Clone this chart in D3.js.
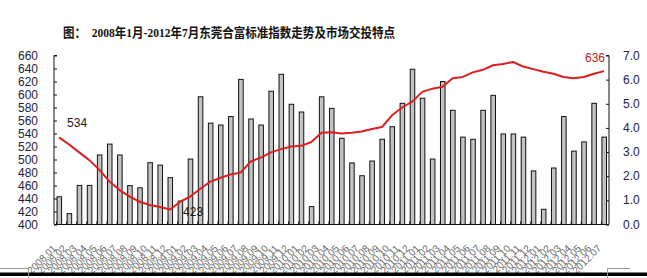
<!DOCTYPE html>
<html>
<head>
<meta charset="utf-8">
<script src="https://cdn.jsdelivr.net/npm/d3@7"></script>
<style>
  body { margin: 0; background: #fff; }
  svg { display: block; }
</style>
</head>
<body>
<svg id="chart"></svg>
<script>
// Data
var months = [
    "2008.01", "2008.02", "2008.03", "2008.04", "2008.05", "2008.06", "2008.07", "2008.08", "2008.09", "2008.10", "2008.11", "2008.12",
    "2009.01", "2009.02", "2009.03", "2009.04", "2009.05", "2009.06", "2009.07", "2009.08", "2009.09", "2009.10", "2009.11", "2009.12",
    "2010.01", "2010.02", "2010.03", "2010.04", "2010.05", "2010.06", "2010.07", "2010.08", "2010.09", "2010.10", "2010.11", "2010.12",
    "2011.01", "2011.02", "2011.03", "2011.04", "2011.05", "2011.06", "2011.07", "2011.08", "2011.09", "2011.10", "2011.11", "2011.12",
    "2012.01", "2012.02", "2012.03", "2012.04", "2012.05", "2012.06", "2012.07"
];

// standard index (left axis)
var indexValues = [
    534, 523, 511, 499, 484, 466, 453, 443, 435, 430, 427, 423,
    435, 443, 455, 466, 472, 477, 480, 497, 503, 511, 516, 520,
    521, 527, 541, 542, 540, 541, 543, 547, 550, 568, 580, 589,
    604, 609, 612, 625, 627, 634, 638, 645, 647, 650, 643, 639,
    635, 632, 627, 625, 627, 632, 636
];

// trading volume (right axis)
var volumeValues = [
    1.15, 0.45, 1.62, 1.62, 2.88, 3.33, 2.88, 1.61, 1.52, 2.56, 2.46, 1.94,
    0.97, 2.71, 5.29, 4.20, 4.12, 4.47, 6.01, 4.37, 4.12, 5.52, 6.22, 4.98,
    4.66, 0.74, 5.29, 4.81, 3.57, 2.55, 2.02, 2.63, 3.53, 4.05, 5.02, 6.43,
    5.23, 2.71, 5.92, 4.73, 3.62, 3.53, 4.73, 5.35, 3.75, 3.75, 3.62, 2.22,
    0.63, 2.34, 4.47, 3.04, 3.42, 5.02, 3.62
];

var leftTicks = [400, 420, 440, 460, 480, 500, 520, 540, 560, 580, 600, 620, 640, 660];
var rightTicks = [0, 1, 2, 3, 4, 5, 6, 7];

// labelled points: index into months
var pointLabels = [
    { i: 0, text: "534", dx: 8, dy: -10, color: "#1a1a22" },
    { i: 11, text: "423", dx: 13, dy: 6, color: "#1a1a22" },
    { i: 54, text: "636", dx: -19, dy: -9, color: "#b52222" }
];

var title = "图：  2008年1月-2012年7月东莞合富标准指数走势及市场交投特点";

// Layout
var width = 647;
var height = 278;
var plot = { left: 54, right: 609, top: 55.5, bottom: 224.5 };

var svg = d3.select('#chart')
    .attr('width', width)
    .attr('height', height);

var x = d3.scaleBand()
    .domain(months)
    .range([plot.left, plot.right])
    .paddingInner(0.5)
    .paddingOuter(0.25);

var xStep = (plot.right - plot.left) / months.length;

var yLeft = d3.scaleLinear().domain([400, 660]).range([plot.bottom, plot.top]);
var yRight = d3.scaleLinear().domain([0, 7]).range([plot.bottom, plot.top]);

// Title
svg.append("text")
    .attr("x", 63)
    .attr("y", 37)
    .attr("font-family", "'Liberation Serif', 'Noto Sans CJK SC', serif")
    .attr("font-weight", "bold")
    .attr("font-size", 13)
    .attr("fill", "#111")
    .attr("textLength", 332)
    .attr("lengthAdjust", "spacingAndGlyphs")
    .style("white-space", "pre")
    .text(title);

// Bars
svg.append("g").selectAll("rect")
    .data(volumeValues)
    .enter().append("rect")
    .attr("x", function (d, i) { return x(months[i]) + 0.5; })
    .attr("y", function (d) { return yRight(d); })
    .attr("width", x.bandwidth() - 0.5)
    .attr("height", function (d) { return plot.bottom - yRight(d); })
    .attr("fill", "#c3c3c3")
    .attr("stroke", "#111")
    .attr("stroke-width", 1);

// Axes (ticks point inward)
var leftAxis = d3.axisRight(yLeft).tickValues(leftTicks).tickSize(3).tickFormat("");
svg.append("g")
    .attr("transform", "translate(" + plot.left + ",0)")
    .call(leftAxis)
    .call(function (g) { g.select(".domain").attr("d", "M3," + plot.top + "H0V" + plot.bottom); });

var rightAxis = d3.axisLeft(yRight).tickValues(rightTicks).tickSize(3).tickFormat("");
svg.append("g")
    .attr("transform", "translate(" + plot.right + ",0)")
    .call(rightAxis)
    .call(function (g) { g.select(".domain").attr("d", "M-3," + plot.top + "H0V" + plot.bottom); });

svg.selectAll(".tick line").attr("stroke", "#111");
svg.selectAll(".domain").attr("stroke", "#111");

// bottom axis with small tick marks between categories
var bottom = svg.append("g");
bottom.append("line")
    .attr("x1", plot.left).attr("x2", plot.right)
    .attr("y1", plot.bottom).attr("y2", plot.bottom)
    .attr("stroke", "#111");
bottom.selectAll("line.tk")
    .data(months)
    .enter().append("line")
    .attr("class", "tk")
    .attr("x1", function (d) { return x(d) - x.step() * x.paddingInner() / 2 - x.bandwidth() / 2 + x.step() / 2; })
    .attr("x2", function (d) { return x(d) - x.step() * x.paddingInner() / 2 - x.bandwidth() / 2 + x.step() / 2; })
    .attr("y1", plot.bottom)
    .attr("y2", plot.bottom - 3)
    .attr("stroke", "#111");

// Tick labels
svg.append("g").selectAll("text")
    .data(leftTicks)
    .enter().append("text")
    .attr("x", 38)
    .attr("y", function (d) { return yLeft(d) + 4; })
    .attr("text-anchor", "end")
    .attr("font-family", "'Liberation Sans', Arial, sans-serif")
    .attr("font-size", 12)
    .attr("fill", "#1e1d3c")
    .text(function (d) { return d; });

svg.append("g").selectAll("text")
    .data(rightTicks)
    .enter().append("text")
    .attr("x", 623)
    .attr("y", function (d) { return yRight(d) + 4; })
    .attr("font-family", "'Liberation Sans', Arial, sans-serif")
    .attr("font-size", 12)
    .attr("fill", "#241c48")
    .text(function (d) { return d.toFixed(1); });

svg.append("g").selectAll("text")
    .data(months)
    .enter().append("text")
    .attr("transform", function (d) {
        return "translate(" + (x(d) + x.bandwidth() / 2 - 2) + ",249)rotate(-45)";
    })
    .attr("text-anchor", "end")
    .attr("font-family", "'Liberation Sans', Arial, sans-serif")
    .attr("font-size", 10)
    .attr("fill", "#6a6a6a")
    .text(function (d) { return d; });

// Index line
var line = d3.line()
    .x(function (d, i) { return x(months[i]) + x.bandwidth() / 2; })
    .y(function (d) { return yLeft(d); });

svg.append("path")
    .datum(indexValues)
    .attr("d", line)
    .attr("fill", "none")
    .attr("stroke", "#dd1f1f")
    .attr("stroke-width", 2)
    .attr("stroke-linejoin", "round");

// Point labels
svg.append("g").selectAll("text")
    .data(pointLabels)
    .enter().append("text")
    .attr("x", function (d) { return x(months[d.i]) + x.bandwidth() / 2 + d.dx; })
    .attr("y", function (d) { return yLeft(indexValues[d.i]) + d.dy; })
    .attr("font-family", "'Liberation Sans', Arial, sans-serif")
    .attr("font-size", 12)
    .attr("fill", function (d) { return d.color; })
    .text(function (d) { return d.text; });

// page borders seen at the bottom of the picture
svg.append("rect")
    .attr("x", 0).attr("y", 272.5)
    .attr("width", width).attr("height", 3.5)
    .attr("fill", "#000");
svg.append("path")
    .attr("d", "M0,268.5H28.5V278 M630,268.5H607.5V278")
    .attr("fill", "none")
    .attr("stroke", "#999");
</script>
</body>
</html>
